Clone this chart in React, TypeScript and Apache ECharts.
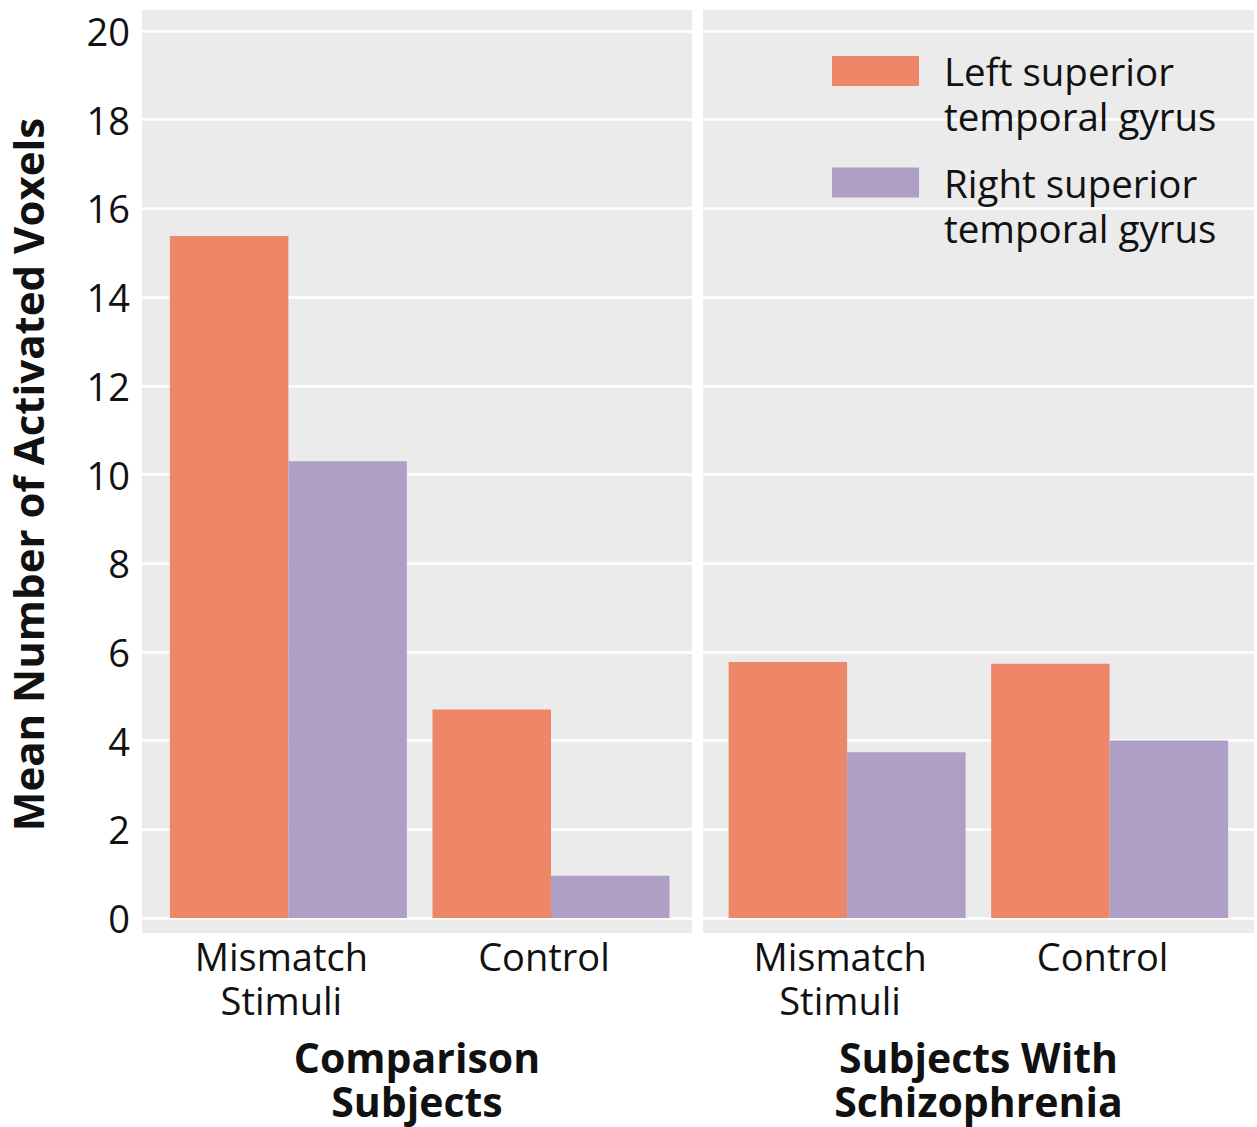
import React, { useEffect, useRef } from "react";
import * as echarts from "echarts";

const categories = ["Mismatch\nStimuli", "Control"];
const panelTitles = ["Comparison\nSubjects", "Subjects With\nSchizophrenia"];
const seriesNames = ["Left superior\ntemporal gyrus", "Right superior\ntemporal gyrus"];
const comparisonLeft = [15.38, 4.7];
const comparisonRight = [10.3, 0.95];
const schizophreniaLeft = [5.77, 5.73];
const schizophreniaRight = [3.74, 4.0];
const yTicks = [0, 2, 4, 6, 8, 10, 12, 14, 16, 18, 20];
const yAxisTitle = "Mean Number of Activated Voxels";

const COLORS = ["#EE8668", "#AF9EC6"];
const FONT = "'Open Sans', sans-serif";
const TEXT = "#111111";

export default function App() {
  const ref = useRef<HTMLDivElement>(null);
  useEffect(() => {
    if (!ref.current) return;
    const chart = echarts.init(ref.current, null, { renderer: "svg" });
    const toData = (vals: number[]) => vals.map((v, i) => [i + 1, v]);
    const panels = [
      { left: 142, width: 550, min: 0.4425, max: 2.537 },
      { left: 703, width: 551, min: 0.451, max: 2.55 },
    ];
    const gridTop = 31;
    const gridHeight = 887;
    const xAxes = panels.map((p, i) => ({
      type: "value",
      gridIndex: i,
      min: p.min,
      max: p.max,
      axisLine: { show: false },
      axisTick: { show: false },
      splitLine: { show: false },
      axisLabel: {
        customValues: [1, 2],
        formatter: (v: number) => categories[Math.round(v) - 1] ?? "",
        fontSize: 38,
        lineHeight: 44,
        color: TEXT,
        fontFamily: FONT,
        margin: 16,
        padding: [0, 14, 0, 0],
      },
      name: panelTitles[i],
      nameLocation: "middle",
      nameGap: 117,
      nameTextStyle: {
        fontSize: 41,
        fontWeight: "bold",
        lineHeight: 44,
        color: TEXT,
        fontFamily: FONT,
      },
    }));
    const yAxes = panels.map((p, i) => ({
      type: "value",
      gridIndex: i,
      min: yTicks[0],
      max: yTicks[yTicks.length - 1],
      interval: yTicks[1] - yTicks[0],
      axisLine: { show: false },
      axisTick: { show: false },
      splitLine: { show: true, lineStyle: { color: "#ffffff", width: 2.6 } },
      axisLabel: {
        show: i === 0,
        fontSize: 38,
        color: TEXT,
        fontFamily: FONT,
        margin: 12,
        padding: [0, 0, 2, 0],
      },
      name: i === 0 ? yAxisTitle : "",
      nameLocation: "middle",
      nameRotate: 90,
      nameGap: 94,
      nameTextStyle: {
        fontSize: 42,
        fontWeight: "bold",
        color: TEXT,
        fontFamily: FONT,
      },
    }));
    const mkSeries = (name: string, data: number[], idx: number, color: string) => ({
      type: "bar",
      name,
      xAxisIndex: idx,
      yAxisIndex: idx,
      data: toData(data),
      barWidth: 118.5,
      barGap: "0%",
      itemStyle: { color },
    });
    const legendBase = {
      left: 832,
      orient: "vertical",
      padding: 0,
      itemWidth: 87,
      itemHeight: 30,
      icon: "rect",
      formatter: (name: string) => " \n" + name,
      textStyle: {
        fontSize: 38.5,
        lineHeight: 45,
        color: TEXT,
        fontFamily: FONT,
        padding: [0, 0, 0, 20],
      },
    };
    chart.setOption({
      animation: false,
      textStyle: { fontFamily: FONT },
      grid: panels.map((p) => ({
        left: p.left,
        width: p.width,
        top: gridTop,
        height: gridHeight,
        containLabel: false,
        outerBoundsMode: "none",
      })),
      graphic: panels.map((p) => ({
        type: "rect",
        z: -10,
        silent: true,
        shape: { x: p.left, y: 10, width: p.width, height: 923 },
        style: { fill: "#EBEBEB" },
      })),
      legend: [
        { ...legendBase, top: 3.5, data: [seriesNames[0]] },
        { ...legendBase, top: 115, data: [seriesNames[1]] },
      ],
      xAxis: xAxes,
      yAxis: yAxes,
      series: [
        mkSeries(seriesNames[0], comparisonLeft, 0, COLORS[0]),
        mkSeries(seriesNames[1], comparisonRight, 0, COLORS[1]),
        mkSeries(seriesNames[0], schizophreniaLeft, 1, COLORS[0]),
        mkSeries(seriesNames[1], schizophreniaRight, 1, COLORS[1]),
      ],
    });
    return () => chart.dispose();
  }, []);
  return (
    <div
      ref={ref}
      style={{ position: "absolute", left: 0, top: 0, width: 1257, height: 1127 }}
    />
  );
}
